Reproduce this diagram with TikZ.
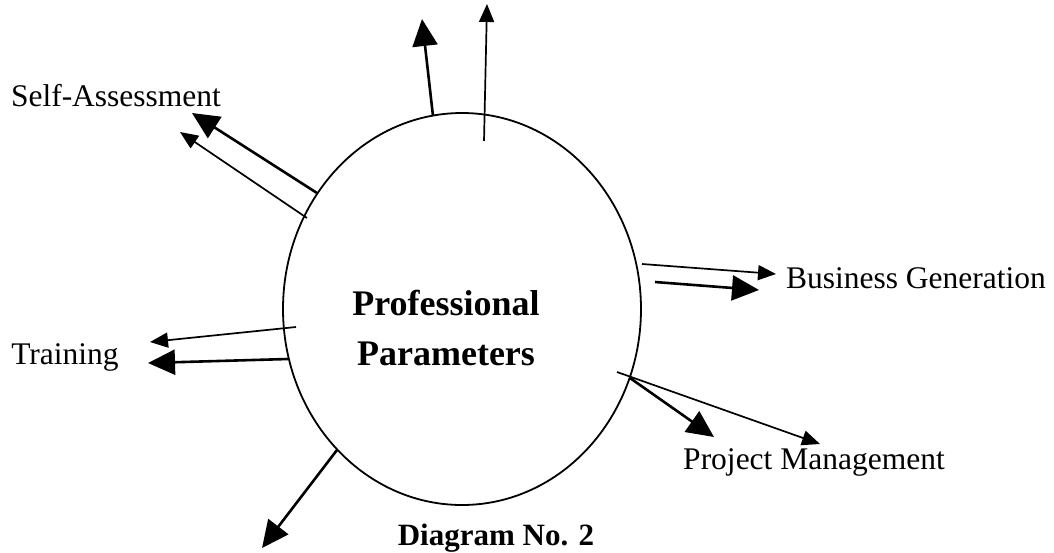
\documentclass[tikz,border=0pt]{standalone}
\usepackage{fontspec}
\setmainfont{Liberation Serif}
\usetikzlibrary{arrows.meta,shapes.geometric}
\tikzset{
  label text/.style={font=\fontsize{31.5}{36}\selectfont, inner sep=0pt},
  title text/.style={font=\fontsize{36}{50}\selectfont\bfseries, inner sep=0pt, align=center},
  caption text/.style={font=\fontsize{31}{36}\selectfont\bfseries, inner sep=0pt},
  ring/.style={draw, line width=1.8pt, ellipse, minimum width=358pt, minimum height=392pt, inner sep=0pt},
  bigarrow/.style={line width=2.6pt, -{Triangle[length=27pt,width=25pt]}},
  smallarrow/.style={line width=1.7pt, -{Triangle[length=18pt,width=15pt]}},
}
\begin{document}
\begin{tikzpicture}[x=1pt,y=-1pt]
  \useasboundingbox (0,0) rectangle (1054,552);

  % central circle
  \node[ring] (hub) at (462,309) {};
  \node[title text] (title) at (446,328) {Professional\\Parameters};

  % labels
  \node[label text] (self) at (116,96) {Self-Assessment};
  \node[label text] (train) at (65,357) {Training};
  \node[label text] (biz) at (916,278) {Business Generation};
  \node[label text] (proj) at (814,462) {Project Management};
  \node[caption text] (cap) at (496,538) {Diagram No. 2};

  % arrow ends
  \coordinate (t1s) at (433,116);  \coordinate (t1e) at (422,19);
  \coordinate (t2s) at (484,141);  \coordinate (t2e) at (487,4);
  \coordinate (s1s) at (317,193);  \coordinate (s1e) at (192,113);
  \coordinate (s2s) at (307,218);  \coordinate (s2e) at (180,132);
  \coordinate (b1s) at (642,264);  \coordinate (b1e) at (776,274);
  \coordinate (b2s) at (655,282);  \coordinate (b2e) at (759,290);
  \coordinate (r1s) at (296,327);  \coordinate (r1e) at (150,342);
  \coordinate (r2s) at (288,359);  \coordinate (r2e) at (148,363);
  \coordinate (p1s) at (617,372);  \coordinate (p1e) at (820,444);
  \coordinate (p2s) at (630,378);  \coordinate (p2e) at (714,437);
  \coordinate (d1s) at (337,450);  \coordinate (d1e) at (262,548);

  % connectors
  \draw[bigarrow]   (t1s) -- (t1e);
  \draw[smallarrow] (t2s) -- (t2e);
  \draw[bigarrow]   (s1s) -- (s1e);
  \draw[smallarrow] (s2s) -- (s2e);
  \draw[smallarrow] (b1s) -- (b1e);
  \draw[bigarrow]   (b2s) -- (b2e);
  \draw[smallarrow] (r1s) -- (r1e);
  \draw[bigarrow]   (r2s) -- (r2e);
  \draw[smallarrow] (p1s) -- (p1e);
  \draw[bigarrow]   (p2s) -- (p2e);
  \draw[bigarrow]   (d1s) -- (d1e);
\end{tikzpicture}
\end{document}
